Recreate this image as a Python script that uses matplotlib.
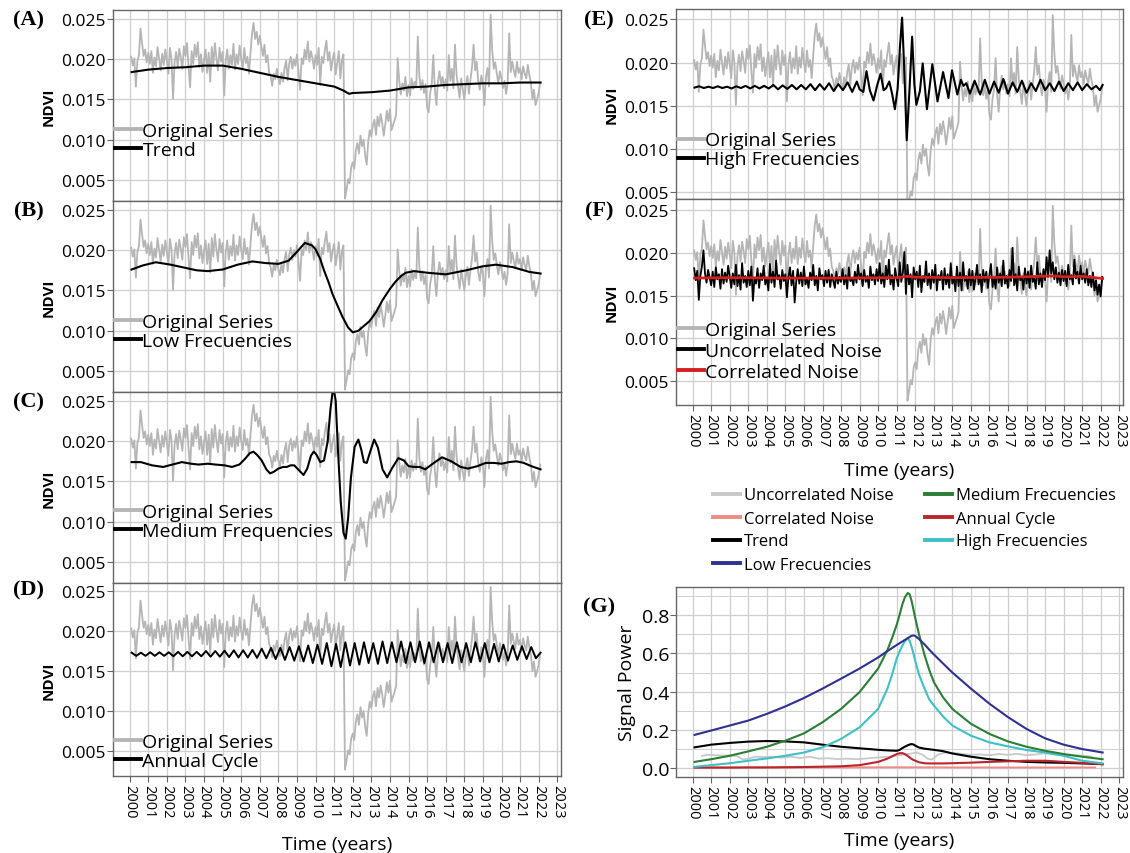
import numpy as np
import matplotlib.pyplot as plt
from matplotlib.lines import Line2D

plt.rcParams["font.family"] = ["Open Sans", "DejaVu Sans"]

# original NDVI series, monthly from Feb 2000 to Feb 2022 (values x 1e-3)
original = [
    20.3, 19.2, 20.1, 16.6, 19.8, 20.5, 23.8, 22.0, 20.4, 21.2, 19.6,
    20.8, 19.4, 21.0, 18.3, 20.2, 19.1, 21.5, 20.0, 18.6, 20.7, 19.3, 21.2,
    19.8, 18.2, 21.4, 20.1, 15.1, 19.6, 20.9, 19.0, 21.3, 20.2, 18.8, 21.6,
    20.4, 22.0, 19.1, 16.5, 21.0, 19.4, 21.8, 20.3, 22.1, 19.0, 20.6, 18.4,
    19.9, 21.2, 18.3, 20.8, 17.2, 21.5, 19.2, 22.0, 20.1, 18.6, 21.4, 19.7,
    20.9, 15.5, 19.8, 21.2, 18.8, 20.5, 19.3, 21.9, 18.7, 20.6, 19.4, 21.7,
    20.0, 18.9, 21.4, 19.5, 20.3, 18.2, 20.8, 23.2, 24.5, 22.5, 23.4, 21.8,
    22.9, 21.6, 20.4, 21.8, 19.6, 20.5, 18.4, 17.9, 16.7, 18.2, 17.5, 18.8,
    17.6, 16.9, 18.3, 17.2, 18.9, 19.8, 17.4, 19.5, 20.3, 18.8, 20.0, 19.2,
    20.6, 18.5, 16.2, 20.1, 19.4, 21.2, 20.0, 22.2, 19.7, 21.0, 20.1, 18.8,
    20.5, 19.3, 21.4, 16.8, 20.3, 19.5, 21.1, 22.3, 19.8, 20.9, 18.6, 19.9,
    20.8, 18.1, 19.6, 21.0, 17.6, 19.9, 20.6, 2.7, 3.8, 5.1, 4.6, 6.6,
    7.2, 6.4, 8.7, 9.6, 8.3, 10.5, 9.2, 10.0, 8.1, 6.9, 9.8, 11.2,
    10.4, 11.8, 12.5, 10.6, 12.9, 11.7, 13.2, 12.1, 10.5, 11.9, 13.6, 12.3,
    13.8, 11.2, 11.8, 12.4, 13.1, 20.1, 17.4, 15.6, 17.0, 16.1, 17.8, 15.4,
    16.8, 15.5, 17.6, 16.3, 17.2, 16.5, 22.8, 17.9, 16.2, 17.4, 15.8, 16.9,
    14.0, 13.4, 15.8, 16.9, 20.5, 16.3, 14.3, 17.2, 18.5, 16.9, 17.8, 16.4,
    17.5, 16.1, 20.5, 17.3, 18.8, 16.4, 21.8, 18.1, 16.7, 15.2, 17.6, 16.3,
    15.0, 16.8, 17.9, 15.7, 17.5, 19.0, 21.8, 18.6, 19.7, 17.3, 16.2, 18.0,
    17.1, 14.3, 17.8, 18.9, 16.6, 25.5, 21.2, 18.8, 19.6, 18.2, 17.0, 18.5,
    17.6, 16.4, 17.3, 15.7, 17.1, 23.2, 18.4, 19.7, 18.6, 17.8, 19.7, 18.3,
    18.9, 17.5, 19.1, 18.2, 17.6, 19.3, 18.0, 17.1, 15.0, 16.2, 14.3, 15.0,
    15.8, 17.1,
]

# uncorrelated noise, same monthly steps (x 1e-3)
uncorrelated = [
    18.2, 16.8, 17.9, 14.5, 17.3, 18.4, 20.3, 17.6, 16.5, 18.0, 17.1,
    16.2, 17.8, 16.0, 18.3, 16.9, 17.5, 15.8, 18.1, 16.4, 17.7, 16.6, 18.5,
    17.2, 15.9, 17.6, 16.3, 18.6, 16.1, 17.4, 15.7, 18.8, 16.5, 17.3, 16.0,
    17.9, 16.2, 18.4, 14.4, 17.0, 16.4, 18.2, 15.9, 17.6, 16.8, 18.5, 16.3,
    17.1, 15.6, 18.7, 16.5, 17.8, 16.0, 19.1, 16.9, 17.4, 15.8, 18.0, 16.7,
    17.5, 14.8, 17.2, 18.3, 16.2, 17.9, 14.2, 16.6, 18.1, 16.4, 17.7, 16.1,
    18.4, 16.3, 17.0, 15.9, 17.7, 16.8, 18.6, 16.2, 17.3, 15.6, 18.2, 16.9,
    17.4, 16.1, 17.9, 16.5, 18.0, 16.0, 17.5, 16.7, 15.9, 17.8, 16.4, 17.2,
    16.6, 18.1, 16.3, 17.4, 15.8, 18.3, 16.7, 17.0, 16.2, 17.8, 16.5, 18.6,
    16.9, 17.6, 16.1, 18.0, 16.6, 17.3, 15.9, 18.4, 16.8, 17.5, 16.3, 18.1,
    16.7, 18.8, 16.4, 17.6, 16.0, 18.5, 16.9, 19.2, 16.3, 17.4, 15.7, 18.2,
    17.0, 16.1, 18.9, 16.6, 17.7, 20.1, 15.2, 18.6, 16.3, 17.5, 14.8, 18.3,
    16.9, 17.8, 16.0, 18.5, 15.4, 17.3, 16.6, 19.0, 16.2, 17.6, 15.8, 18.0,
    16.5, 18.6, 15.6, 17.4, 16.8, 17.9, 15.7, 18.2, 16.3, 17.5, 15.9, 18.8,
    16.4, 17.2, 15.5, 18.4, 16.1, 17.7, 15.6, 18.9, 16.7, 17.3, 15.8, 18.1,
    16.2, 17.9, 15.7, 17.0, 18.6, 16.3, 17.5, 15.4, 18.0, 16.6, 17.8, 15.9,
    17.4, 18.7, 16.0, 17.2, 15.8, 18.3, 16.5, 17.6, 16.1, 19.1, 16.4, 17.3,
    15.9, 18.0, 16.7, 20.6, 16.2, 17.5, 15.6, 18.4, 16.8, 17.1, 15.7, 18.2,
    16.4, 17.8, 15.9, 18.5, 16.6, 17.0, 15.8, 18.9, 16.3, 17.6, 16.0, 18.1,
    16.8, 19.5, 17.2, 20.3, 17.6, 18.9, 16.9, 18.3, 16.5, 17.7, 16.2, 18.0,
    16.7, 17.9, 16.1, 18.6, 16.9, 17.4, 16.3, 19.2, 17.0, 17.8, 16.4, 18.5,
    16.9, 17.6, 16.5, 18.1, 16.2, 17.3, 16.0, 17.7, 15.6, 16.8, 15.1, 16.3,
    14.9, 17.2,
]

# trend (x 1e-3)
trend_t = [2000.1, 2001, 2002, 2003, 2004, 2005, 2006, 2007, 2008, 2009, 2010,
           2011, 2011.5, 2011.8, 2012, 2013, 2014, 2015, 2016, 2017, 2018,
           2019, 2020, 2021, 2022.1]
trend_v = [18.4, 18.7, 18.9, 19.0, 19.2, 19.2, 18.8, 18.3, 17.8, 17.4, 17.0,
           16.6, 16.1, 15.7, 15.8, 15.9, 16.1, 16.5, 16.6, 16.8, 16.9,
           17.0, 17.0, 17.1, 17.1]

# low frequencies (x 1e-3)
low_t = [2000.1, 2000.7, 2001.4, 2002.2, 2003.0, 2003.6, 2004.2, 2005.0, 2005.8,
         2006.6, 2007.3, 2008.0, 2008.55, 2009.0, 2009.42, 2009.8, 2010.0,
         2010.25, 2010.45, 2010.7, 2010.9, 2011.2, 2011.45, 2011.75, 2012.0,
         2012.3, 2012.6, 2012.9, 2013.25, 2013.6, 2014.0, 2014.3, 2014.6,
         2014.85, 2015.3, 2016.0, 2017.0, 2018.1, 2019.0, 2019.7, 2020.6,
         2021.5, 2022.1]
low_v = [17.6, 18.1, 18.5, 18.2, 17.8, 17.5, 17.4, 17.6, 18.2,
         18.6, 18.4, 18.3, 18.7, 19.8, 20.9, 20.6, 20.1,
         18.9, 17.5, 16.0, 14.6, 13.0, 11.7, 10.4, 9.8,
         10.0, 10.6, 11.2, 12.3, 13.8, 15.2, 16.1, 16.8,
         17.2, 17.4, 17.2, 17.0, 17.5, 18.0, 18.2, 17.9,
         17.3, 17.1]

# medium frequencies (x 1e-3)
med_t = [2000.1, 2000.6, 2001.2, 2001.8, 2002.3, 2002.8, 2003.3, 2003.7, 2004.2,
         2004.6, 2005.1, 2005.5, 2005.9, 2006.2, 2006.45, 2006.65, 2006.85,
         2007.1, 2007.35, 2007.55, 2007.75, 2008.0, 2008.25, 2008.45, 2008.65,
         2008.85, 2009.1, 2009.35, 2009.55, 2009.75, 2009.9, 2010.05, 2010.25,
         2010.45, 2010.65, 2010.8, 2010.95, 2011.08, 2011.2, 2011.35, 2011.5,
         2011.62, 2011.75, 2011.9, 2012.1, 2012.3, 2012.45, 2012.6, 2012.75,
         2012.95, 2013.15, 2013.35, 2013.6, 2013.85, 2014.1, 2014.45, 2014.75,
         2015.0, 2015.3, 2015.6, 2015.9, 2016.3, 2016.8, 2017.3, 2017.8,
         2018.2, 2018.7, 2019.15, 2019.6, 2020.0, 2020.4, 2020.8, 2021.2,
         2021.6, 2022.1]
med_v = [17.4, 17.4, 17.0, 16.8, 17.1, 17.4, 17.2, 17.1, 17.2,
         17.1, 17.0, 16.8, 17.1, 17.8, 18.5, 18.7, 18.3,
         17.6, 16.5, 16.0, 16.2, 16.6, 16.8, 16.8, 17.0,
         17.0, 16.4, 15.8, 16.6, 18.2, 18.7, 18.3, 17.4,
         17.6, 20.0, 24.0, 26.8, 25.0, 19.0, 12.5, 8.6,
         7.9, 10.5, 15.5, 19.3, 20.2, 19.0, 17.4, 17.3,
         18.8, 20.2, 19.2, 16.5, 15.5, 16.6, 17.9, 17.6,
         16.9, 16.8, 16.8, 16.5, 17.2, 18.0, 17.5, 16.8,
         16.6, 16.9, 17.3, 17.3, 17.2, 17.4, 17.5, 17.3,
         16.9, 16.5]

# annual cycle, quarter-year extremes from 2000.1 (x 1e-3)
annual = [
    17.3, 16.9, 17.3, 16.9, 17.35, 16.9, 17.35, 16.9, 17.35, 16.85, 17.4, 16.85,
    17.4, 16.85, 17.4, 16.85,
    17.5, 16.8, 17.5, 16.8, 17.55, 16.75, 17.6, 16.7, 17.6, 16.7, 17.65, 16.65,
    17.8, 16.6, 17.9, 16.5, 17.9, 16.4, 18.0, 16.3,
    18.1, 16.2, 18.2, 16.0, 18.3, 15.9,
    18.5, 15.6, 18.4, 15.5, 18.6, 15.7, 18.5, 15.8, 18.6, 16.0, 18.5, 15.9,
    18.7, 16.0, 18.6, 16.1, 18.7, 16.0, 18.6, 16.1, 18.7, 16.0, 18.6, 16.1,
    18.6, 16.1, 18.5, 16.0, 18.6, 16.1, 18.5, 16.1, 18.6, 16.2, 18.5, 16.1,
    18.4, 16.2,
    18.3, 16.3, 18.2, 16.4, 18.1, 16.5, 18.0, 16.6, 17.3,
]

# high frequencies (x 1e-3)
high_t = [2000.1, 2000.35, 2000.6, 2000.85, 2001.1, 2001.35, 2001.6, 2001.85,
          2002.1, 2002.35, 2002.6, 2002.85, 2003.1, 2003.35, 2003.6, 2003.85,
          2004.1, 2004.35, 2004.6, 2004.85, 2005.1, 2005.35, 2005.6, 2005.85,
          2006.1, 2006.35, 2006.6, 2006.85, 2007.1, 2007.35, 2007.6, 2007.85,
          2008.1, 2008.35, 2008.6, 2008.85, 2009.0, 2009.2, 2009.37, 2009.55,
          2009.75, 2009.95, 2010.13, 2010.3, 2010.42, 2010.6, 2010.75, 2010.9,
          2011.05, 2011.18, 2011.29, 2011.42, 2011.54, 2011.68, 2011.83,
          2011.95, 2012.06, 2012.25, 2012.4, 2012.63, 2012.92, 2013.2, 2013.5,
          2013.79, 2013.98, 2014.27, 2014.46, 2014.6, 2014.75, 2014.95, 2015.2,
          2015.5, 2015.75, 2016.0, 2016.25, 2016.5, 2016.75, 2017.0, 2017.25,
          2017.5, 2017.75, 2018.0, 2018.25, 2018.5, 2018.75, 2019.0, 2019.25,
          2019.5, 2019.75, 2020.0, 2020.25, 2020.5, 2020.75, 2021.0, 2021.25,
          2021.5, 2021.75, 2021.95, 2022.1]
high_v = [17.1, 17.25, 17.05, 17.2, 17.05, 17.25, 17.05, 17.2,
          17.0, 17.25, 17.05, 17.3, 17.0, 17.3, 17.0, 17.3,
          17.0, 17.4, 16.9, 17.35, 16.95, 17.4, 16.9, 17.4,
          16.9, 17.5, 16.8, 17.5, 16.85, 17.6, 16.7, 17.5,
          16.8, 17.7, 16.6, 17.8, 16.9, 16.6, 19.0, 16.8,
          15.6, 17.4, 18.7, 16.8, 17.0, 17.8, 16.4, 14.6,
          17.0, 22.0, 25.2, 18.5, 11.0, 16.5, 23.0,
          17.5, 15.1, 16.7, 19.9, 14.6, 19.8, 15.5, 18.9,
          15.9, 19.1, 16.3, 18.0, 17.3, 17.6, 16.4, 17.9,
          16.3, 18.0, 16.4, 17.8, 16.5, 18.1, 16.4, 17.7,
          16.6, 17.9, 16.5, 17.6, 16.7, 18.0, 16.8, 17.6,
          16.7, 17.8, 16.7, 17.6, 16.8, 17.7, 16.8, 17.5,
          16.9, 17.3, 16.8, 17.4]

# correlated noise (x 1e-3)
corr_t = [2000.1, 2002, 2005, 2008, 2011, 2011.6, 2012, 2014, 2017, 2019.5,
          2020, 2021, 2022.1]
corr_v = [17.05, 17.1, 17.05, 17.05, 17.1, 17.25, 17.15, 17.1, 17.15, 17.3,
          17.2, 17.25, 17.0]

# (G) signal power
pw_years = [2000.1, 2001, 2002, 2003, 2004, 2005, 2006, 2007, 2008, 2009,
            2010, 2010.5, 2010.75, 2011, 2011.15, 2011.3, 2011.45, 2011.6,
            2011.7, 2011.8, 2011.9, 2012, 2012.2, 2012.5, 2012.75, 2013,
            2013.5, 2014, 2015, 2016, 2017, 2018, 2019, 2020, 2021, 2022.1]
pw_low = [0.174, 0.197, 0.223, 0.249, 0.284, 0.323, 0.367, 0.416, 0.468,
          0.521, 0.579, 0.612, 0.628, 0.644, 0.653, 0.662, 0.671, 0.680,
          0.686, 0.692, 0.694, 0.691, 0.675, 0.647, 0.620, 0.595,
          0.547, 0.500, 0.416, 0.337, 0.267, 0.205, 0.156, 0.123, 0.100, 0.082]
pw_medium = [0.033, 0.047, 0.065, 0.088, 0.112, 0.144, 0.182, 0.240, 0.310,
             0.398, 0.521, 0.618, 0.680, 0.750, 0.800, 0.856, 0.895, 0.916,
             0.908, 0.875, 0.830, 0.784, 0.700, 0.591, 0.515, 0.450,
             0.370, 0.310, 0.232, 0.179, 0.140, 0.112, 0.091, 0.074, 0.060,
             0.047]
pw_high = [0.007, 0.016, 0.026, 0.039, 0.051, 0.065, 0.082, 0.109, 0.153,
           0.214, 0.310, 0.416, 0.490, 0.574, 0.610, 0.640, 0.665, 0.679,
           0.665, 0.635, 0.600, 0.560, 0.490, 0.416, 0.360, 0.328,
           0.270, 0.223, 0.170, 0.135, 0.114, 0.095, 0.082, 0.065, 0.039,
           0.025]
pw_trend = [0.109, 0.123, 0.132, 0.139, 0.142, 0.140, 0.135, 0.123, 0.112,
            0.104, 0.096, 0.093, 0.092, 0.091, 0.095, 0.105, 0.113, 0.120,
            0.124, 0.126, 0.124, 0.118, 0.108, 0.102, 0.099, 0.096,
            0.089, 0.077, 0.060, 0.047, 0.039, 0.033, 0.030, 0.028, 0.025,
            0.021]
pw_annual = [0.003, 0.003, 0.003, 0.004, 0.004, 0.005, 0.006, 0.008, 0.010,
             0.016, 0.033, 0.050, 0.062, 0.074, 0.078, 0.079, 0.073, 0.063,
             0.056, 0.049, 0.043, 0.039, 0.031, 0.026, 0.025, 0.025,
             0.025, 0.026, 0.029, 0.033, 0.036, 0.039, 0.039, 0.033, 0.028,
             0.021]
pw_unc_t = [2000.5, 2000.8, 2001.2, 2001.6, 2002.0, 2002.4, 2002.7, 2003.0,
            2003.4, 2003.8, 2004.3, 2004.8, 2005.3, 2005.8, 2006.3, 2006.8,
            2007.3, 2007.8, 2008.3, 2008.8, 2009.3, 2009.8, 2010.3, 2010.8,
            2011.3, 2011.7, 2012.1, 2012.4, 2012.7, 2012.9, 2013.2, 2013.6,
            2014.0, 2014.5, 2015.0, 2015.5, 2016.0, 2016.5, 2017.0, 2017.5,
            2018.0, 2018.5, 2019.0, 2019.5, 2020.0, 2020.5, 2021.0, 2021.5]
pw_unc_v = [0.065, 0.070, 0.068, 0.066, 0.067, 0.063, 0.046, 0.050,
            0.060, 0.058, 0.060, 0.055, 0.060, 0.053, 0.060, 0.050,
            0.052, 0.048, 0.050, 0.047, 0.050, 0.055, 0.058, 0.062,
            0.070, 0.075, 0.082, 0.070, 0.048, 0.045, 0.070, 0.082,
            0.080, 0.075, 0.070, 0.072, 0.068, 0.074, 0.070, 0.075,
            0.068, 0.072, 0.078, 0.072, 0.070, 0.068, 0.066, 0.060]
pw_corr_t = [2000.1, 2006, 2011, 2016, 2021.7]
pw_corr_v = [0.004, 0.004, 0.005, 0.004, 0.004]

years = list(range(2000, 2024))
ndvi_ticks = [0.005, 0.010, 0.015, 0.020, 0.025]

months = 2000.08 + np.arange(len(original)) / 12
months_u = 2000.08 + np.arange(len(uncorrelated)) / 12
milli = lambda v: np.asarray(v) * 1e-3

GRAY = "#b5b5b5"
GRID = "#cfcfcf"
SPINE = "#666666"

fig = plt.figure(figsize=(11.3, 8.54), dpi=100)


def panel(left, top, right, bottom):
    return fig.add_axes([left / 1130, 1 - bottom / 854,
                         (right - left) / 1130, (bottom - top) / 854])


def style(ax, ylim, show_x, yticks=ndvi_ticks, fmt="%.3f", xpad=6):
    ax.set_xlim(1999.1, 2023.2)
    ax.set_ylim(*ylim)
    ax.set_xticks(years)
    ax.set_yticks(yticks)
    ax.set_yticklabels([fmt % v for v in yticks])
    ax.grid(True, color=GRID, lw=0.9)
    ax.set_axisbelow(True)
    for s in ax.spines.values():
        s.set_color(SPINE)
        s.set_linewidth(1.0)
    ax.tick_params(axis="y", labelsize=12.5, length=4, color=SPINE, pad=1)
    if show_x:
        ax.set_xticklabels([str(y) for y in years], rotation=-90)
        ax.tick_params(axis="x", labelsize=10.5, length=4, color=SPINE, pad=2)
        ax.set_xlabel("Time (years)", fontsize=14, labelpad=xpad)
    else:
        ax.tick_params(axis="x", labelbottom=False, length=0)


def inner_legend(ax, labels, colors, y, spacing=0.05):
    handles = [Line2D([], [], color=c, lw=2.8) for c in colors]
    ax.legend(handles, labels, loc="center left", bbox_to_anchor=(0.005, y),
              frameon=False, fontsize=14, handlelength=1.35,
              handletextpad=0.05, labelspacing=spacing, borderpad=0,
              borderaxespad=0)


def ndvi_panel(ax, t, v, label, ylim, show_x, leg_y, color="black", lw=1.5):
    ax.plot(months, milli(original), color=GRAY, lw=1.3)
    ax.plot(t, milli(v), color=color, lw=lw)
    style(ax, ylim, show_x, xpad=12)
    ax.set_ylabel("NDVI", fontsize=11, fontweight="bold", labelpad=4)
    inner_legend(ax, ["Original Series", label], [GRAY, "black"], leg_y)


ax_a = panel(113, 11, 561, 202)
ndvi_panel(ax_a, trend_t, trend_v, "Trend", (0.0024, 0.0261), False, 0.317)
ax_b = panel(113, 202, 561, 393)
ndvi_panel(ax_b, low_t, low_v, "Low Frecuencies", (0.0024, 0.0261), False, 0.317)
ax_c = panel(113, 393, 561, 584)
ndvi_panel(ax_c, med_t, med_v, "Medium Frequencies", (0.0024, 0.0261), False, 0.322)
ax_d = panel(113, 584, 561, 777)
annual_t = 2000.1 + 0.25 * np.arange(len(annual))
ndvi_panel(ax_d, annual_t, annual, "Annual Cycle", (0.0019, 0.0260), True, 0.127,
           lw=1.4)

ax_e = panel(676, 10, 1123, 200)
ndvi_panel(ax_e, high_t, high_v, "High Frecuencies", (0.0042, 0.0262), False, 0.258)

ax_f = panel(676, 200, 1123, 406)
ax_f.plot(months, milli(original), color=GRAY, lw=1.3)
ax_f.plot(months_u, milli(uncorrelated), color="black", lw=1.3)
ax_f.plot(corr_t, milli(corr_v), color="#d42020", lw=2.0)
style(ax_f, (0.0022, 0.0263), True, xpad=10)
ax_f.set_ylabel("NDVI", fontsize=11, fontweight="bold", labelpad=4)
inner_legend(ax_f, ["Original Series", "Uncorrelated Noise", "Correlated Noise"],
             [GRAY, "black", "#d42020"], 0.262, spacing=0.15)

# (G) signal power
C_LOW, C_MED, C_HIGH = "#2e3192", "#2a7f35", "#3ec0c6"
C_ANN, C_CORR, C_UNC = "#b8262b", "#f08a84", "#c8c8c8"
ax_g = panel(676, 588, 1123, 778)
ax_g.plot(pw_unc_t, pw_unc_v, color=C_UNC, lw=1.3)
ax_g.plot(pw_corr_t, pw_corr_v, color=C_CORR, lw=1.3)
ax_g.plot(pw_years, pw_trend, color="black", lw=1.5)
ax_g.plot(pw_years, pw_annual, color=C_ANN, lw=1.5)
ax_g.plot(pw_years, pw_high, color=C_HIGH, lw=1.5)
ax_g.plot(pw_years, pw_medium, color=C_MED, lw=1.5)
ax_g.plot(pw_years, pw_low, color=C_LOW, lw=1.5)
style(ax_g, (-0.046, 0.947), True, yticks=[0.0, 0.2, 0.4, 0.6, 0.8], fmt="%.1f",
      xpad=9)
ax_g.set_yticks([0.1, 0.3, 0.5, 0.7, 0.9], minor=True)
ax_g.grid(True, which="minor", axis="y", color=GRID, lw=0.7)
ax_g.tick_params(axis="y", which="major", labelsize=14)
ax_g.tick_params(axis="y", which="minor", length=0)
ax_g.set_ylabel("Signal Power", fontsize=14, labelpad=4)

legend_labels = ["Uncorrelated Noise", "Correlated Noise", "Trend",
                 "Low Frecuencies", "Medium Frecuencies", "Annual Cycle",
                 "High Frecuencies"]
legend_colors = [C_UNC, C_CORR, "black", C_LOW, C_MED, C_ANN, C_HIGH]
fig.legend([Line2D([], [], color=c, lw=2.8) for c in legend_colors],
           legend_labels, ncol=2, loc="center left",
           bbox_to_anchor=(713 / 1130, 1 - 531 / 854), frameon=False,
           fontsize=12, handlelength=1.6, handletextpad=0.25,
           labelspacing=0.42, columnspacing=1.9, borderpad=0, borderaxespad=0)

# panel letters
for letter, x, y in [("(A)", 29, 20), ("(B)", 29, 211), ("(C)", 29, 402),
                     ("(D)", 29, 590), ("(E)", 599, 20), ("(F)", 599, 211),
                     ("(G)", 599, 607)]:
    fig.text(x / 1130, 1 - y / 854, letter, family="Liberation Serif",
             fontweight="bold", fontsize=16, ha="center", va="center")

fig.savefig("out.png", dpi=100)
